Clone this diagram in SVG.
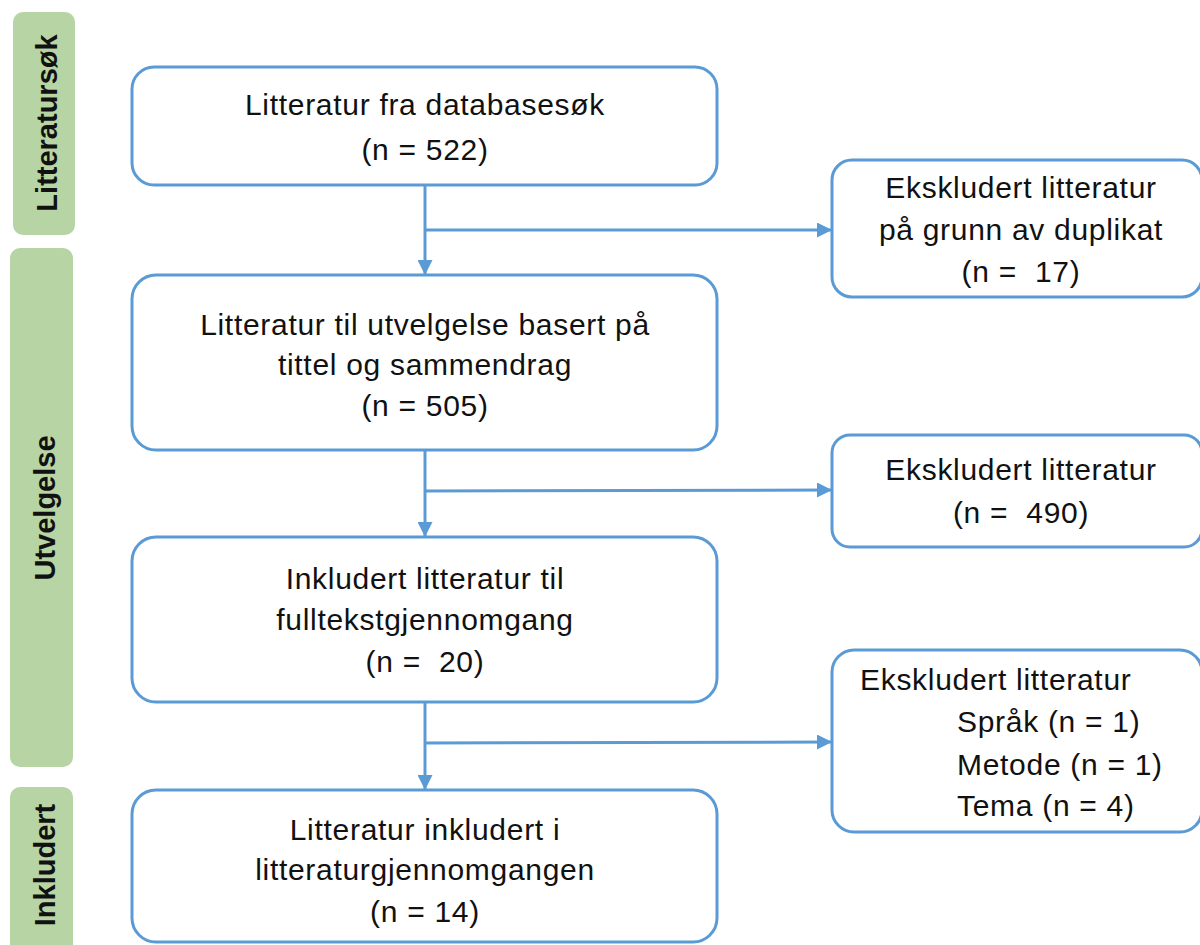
<svg xmlns="http://www.w3.org/2000/svg" width="1200" height="945" viewBox="0 0 1200 945">
<defs>
<marker id="arr" viewBox="0 0 15 15" refX="14" refY="7.5" markerWidth="15" markerHeight="15" markerUnits="userSpaceOnUse" orient="auto">
<path d="M0,0 L15,7.5 L0,15 Z" fill="#5B9BD5"/>
</marker>
<style>
.bar{fill:#B7D5A4;}
.bt{font-family:"Liberation Sans",Arial,sans-serif;font-weight:bold;font-size:29px;fill:#111;text-anchor:middle;}
.box{fill:#fff;stroke:#5B9BD5;stroke-width:3;}
.t{font-family:"Liberation Sans",Arial,sans-serif;font-size:30px;fill:#111;letter-spacing:0.7px;white-space:pre;}
.c{text-anchor:middle;}
.ln{fill:none;stroke:#5B9BD5;stroke-width:3;}
</style>
</defs>
<rect width="1200" height="945" fill="#fff"/>
<g id="phase-litteratursok">
<rect class="bar" x="13" y="12" width="62" height="223" rx="10"/>
<text class="bt" transform="translate(57,123) rotate(-90)">Litteratursøk</text>
</g>
<g id="phase-utvelgelse">
<rect class="bar" x="10" y="248" width="63" height="519" rx="10"/>
<text class="bt" transform="translate(55,508) rotate(-90)">Utvelgelse</text>
</g>
<g id="phase-inkludert">
<rect class="bar" x="10" y="787" width="63" height="175" rx="10"/>
<text class="bt" transform="translate(55,865) rotate(-90)">Inkludert</text>
</g>
<g id="connectors">
<line class="ln" x1="425" y1="185" x2="425" y2="274" marker-end="url(#arr)"/>
<line class="ln" x1="425" y1="230" x2="831" y2="230" marker-end="url(#arr)"/>
<line class="ln" x1="425" y1="450" x2="425" y2="536" marker-end="url(#arr)"/>
<line class="ln" x1="425" y1="491" x2="831" y2="490" marker-end="url(#arr)"/>
<line class="ln" x1="425" y1="702" x2="425" y2="789" marker-end="url(#arr)"/>
<line class="ln" x1="425" y1="743" x2="831" y2="742" marker-end="url(#arr)"/>
</g>
<g id="box-database">
<rect class="box" x="132" y="67" width="585" height="118" rx="22"/>
<text class="t c" x="425" y="115">Litteratur fra databasesøk</text>
<text class="t c" x="425" y="160">(n = 522)</text>
</g>
<g id="box-utvelgelse">
<rect class="box" x="132" y="275" width="585" height="175" rx="24"/>
<text class="t c" x="425" y="335">Litteratur til utvelgelse basert på</text>
<text class="t c" x="425" y="375">tittel og sammendrag</text>
<text class="t c" x="425" y="416">(n = 505)</text>
</g>
<g id="box-fulltekst">
<rect class="box" x="132" y="537" width="585" height="165" rx="24"/>
<text class="t c" x="425" y="589">Inkludert litteratur til</text>
<text class="t c" x="425" y="630">fulltekstgjennomgang</text>
<text class="t c" x="425" y="672">(n =  20)</text>
</g>
<g id="box-inkludert">
<rect class="box" x="132" y="790" width="585" height="152" rx="24"/>
<text class="t c" x="425" y="840">Litteratur inkludert i</text>
<text class="t c" x="425" y="880">litteraturgjennomgangen</text>
<text class="t c" x="425" y="922">(n = 14)</text>
</g>
<g id="box-duplikat">
<rect class="box" x="832" y="160" width="370" height="137" rx="20"/>
<text class="t c" x="1021" y="198">Ekskludert litteratur</text>
<text class="t c" x="1021" y="240">på grunn av duplikat</text>
<text class="t c" x="1021" y="282">(n =  17)</text>
</g>
<g id="box-ekskludert-490">
<rect class="box" x="832" y="435" width="370" height="112" rx="18"/>
<text class="t c" x="1021" y="480">Ekskludert litteratur</text>
<text class="t c" x="1021" y="523">(n =  490)</text>
</g>
<g id="box-ekskludert-6">
<rect class="box" x="832" y="650" width="370" height="182" rx="22"/>
<text class="t" x="860" y="690">Ekskludert litteratur</text>
<text class="t" x="957" y="732">Språk (n = 1)</text>
<text class="t" x="957" y="775">Metode (n = 1)</text>
<text class="t" x="957" y="816">Tema (n = 4)</text>
</g>
</svg>
